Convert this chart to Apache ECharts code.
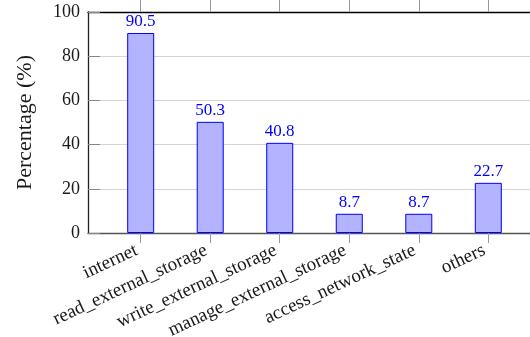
<!DOCTYPE html>
<html>
<head>
<meta charset="utf-8">
<script src="https://cdn.jsdelivr.net/npm/echarts@6/dist/echarts.min.js"></script>
<style>
  html, body { margin: 0; padding: 0; background: #fff; }
  #chart { width: 530px; height: 337px; }
</style>
</head>
<body>
<div id="chart"></div>
<script>
// permission names on the x axis
const categories = [
  "internet",
  "read_external_storage",
  "write_external_storage",
  "manage_external_storage",
  "access_network_state",
  "others",
];
// percentage of apps requesting each one
const percentages = [90.5, 50.3, 40.8, 8.7, 8.7, 22.7];
const yTicks = [0, 20, 40, 60, 80, 100];

const FONT = "Liberation Serif";
const catIndex = categories.map((c, i) => i);

// pgfplots style: bars sit on a numeric x scale with enlarged limits
const xMin = -0.758;
const xMax = categories.length - 1 + 0.758;

const myChart = echarts.init(document.getElementById("chart"), null, { renderer: "canvas" });

const option = {
  backgroundColor: "#fff",
  animation: false,
  grid: {
    left: 88,
    width: 453, // plot runs past the right edge of the picture
    top: 12,
    bottom: 104,
    containLabel: false,
    outerBoundsMode: "none",
  },
  xAxis: [
    {
      type: "value",
      position: "bottom",
      min: xMin,
      max: xMax,
      axisLine: { show: true, onZero: false, lineStyle: { color: "#555", width: 1.3 } },
      axisTick: {
        show: true,
        inside: false,
        length: 10,
        customValues: catIndex,
        lineStyle: { color: "#999", width: 1 },
      },
      axisLabel: {
        show: true,
        customValues: catIndex,
        rotate: 25,
        margin: 25,
        verticalAlign: "bottom",
        fontFamily: FONT,
        fontSize: 19,
        color: "#1a1a1a",
        formatter: (v) => {
          const i = Math.round(v);
          return Math.abs(v - i) < 1e-6 && categories[i] ? categories[i] : "";
        },
      },
      splitLine: { show: false },
    },
    {
      // mirrored ticks along the top
      type: "value",
      position: "top",
      min: xMin,
      max: xMax,
      axisLine: { show: true, onZero: false, lineStyle: { color: "#000", width: 1.3 } },
      axisTick: {
        show: true,
        inside: false,
        length: 12,
        customValues: catIndex,
        lineStyle: { color: "#999", width: 1 },
      },
      axisLabel: { show: false },
      splitLine: { show: false },
    },
  ],
  yAxis: {
    type: "value",
    min: yTicks[0],
    max: yTicks[yTicks.length - 1],
    interval: 20,
    name: "Percentage (%)",
    nameLocation: "middle",
    nameGap: 52,
    nameTextStyle: { fontFamily: FONT, fontSize: 22, color: "#1a1a1a" },
    axisLine: { show: true, onZero: false, lineStyle: { color: "#222", width: 1.3 } },
    axisTick: {
      show: true,
      inside: true,
      length: 12,
      lineStyle: { color: "#888", width: 1 },
    },
    axisLabel: {
      fontFamily: FONT,
      fontSize: 18,
      color: "#1a1a1a",
      margin: 8,
    },
    splitLine: { show: true, lineStyle: { color: "#d4d4d4", width: 1 } },
  },
  series: [
    {
      type: "bar",
      xAxisIndex: 0,
      barWidth: 27,
      data: percentages.map((v, i) => [i, v]),
      itemStyle: {
        color: "#b3b3ff",
        borderColor: "#0000ff",
        borderWidth: 1,
      },
      label: {
        show: true,
        position: "top",
        distance: 3,
        fontFamily: FONT,
        fontSize: 17,
        color: "#0000ff",
        formatter: (p) => p.value[1].toFixed(1),
      },
    },
  ],
};

myChart.setOption(option);
window.addEventListener("resize", () => {
  myChart.resize();
});
</script>
</body>
</html>
